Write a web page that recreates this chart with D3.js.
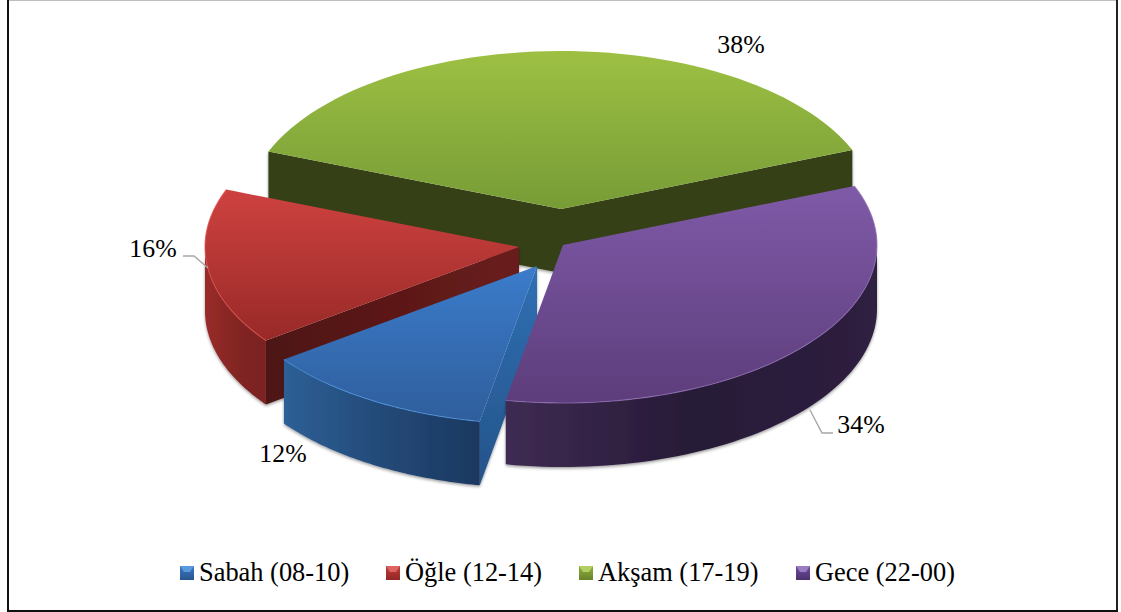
<!DOCTYPE html>
<html><head><meta charset="utf-8">
<script src="https://cdn.jsdelivr.net/npm/d3@7"></script>
<style>html,body{margin:0;padding:0;background:#fff}svg{display:block}text{font-family:"Liberation Serif","Times New Roman",serif;fill:#000}</style>
</head><body><div id="c"></div>
<script>
const categories = ["Sabah (08-10)", "Öğle (12-14)", "Akşam (17-19)", "Gece (22-00)"];
const values = [12, 16, 38, 34];
const valueLabels = ["12%", "16%", "38%", "34%"];

const W = 1121, H = 612;
const rx = 314, ry = 158, depth = 64;
const rad = d3.scaleLinear().domain([0, 360]).range([0, 2 * Math.PI]);
const firstAngle = rad(190.5);

// layout of each slice (exploded apex), label anchors and legend columns
const apex = [[537, 266], [519, 247], [561, 209], [563, 245]];
const labelPos = [[283, 462], [153, 257], [741, 53], [861, 433]];
const leaders = [null, [[183, 256], [194, 256], [208, 268]], null, [[833, 433], [822, 433], [810, 410]]];
const legendX = [180, 386, 579, 796];

const topStops = [["#3b7ccb", "#2f5e9c"], ["#ce4240", "#982927"], ["#9dc043", "#779c36"], ["#7f5aa8", "#5d3d7b"]];
const edgeCol = ["#4b93e0", "#dc4e4b", "#a9cc4c", "#8d6cb4"];
const legendStops = [
  ["#5b98dd", "#3a78c4", "#2a568f"],
  ["#dd6462", "#c43c3a", "#8f2826"],
  ["#b3cf63", "#8fb03d", "#68832a"],
  ["#9a7cc2", "#6e4c9a", "#4c3270"]
];
const radialWall = [
  {dir: "v", stops: ["#2f70b4", "#255389"]},
  {dir: "h", stops: ["#4e1513", "#6a1c1c"]},
  {dir: "h", stops: ["#343f15", "#343f15"]},
  null
];
const outerStops = [
  ["#2d5f96", "#234a78", "#1b3860"],
  ["#9a2c2a", "#832523", "#7a2220"],
  null,
  ["#3f2b53", "#271a37", "#2f2040"]
];
const drawOrder = [2, 1, 0, 3];

const pie = d3.pie().sort(null).startAngle(firstAngle).endAngle(firstAngle + 2 * Math.PI);
const arcs = pie(values);

const svg = d3.select("#c").append("svg").attr("width", W).attr("height", H);
const defs = svg.append("defs");

function gradient(id, dir, stops) {
  const g = defs.append("linearGradient").attr("id", id)
    .attr("x1", 0).attr("y1", 0).attr("x2", dir === "h" ? 1 : 0).attr("y2", dir === "h" ? 0 : 1);
  stops.forEach((c, i) => g.append("stop").attr("offset", i / (stops.length - 1)).attr("stop-color", c));
  return `url(#${id})`;
}
const f = defs.append("filter").attr("id", "sh").attr("x", "-5%").attr("y", "-5%").attr("width", "110%").attr("height", "110%");
f.append("feDropShadow").attr("dx", 0).attr("dy", 1.5).attr("stdDeviation", 1.5)
  .attr("flood-color", "#000").attr("flood-opacity", 0.4);

// frame
svg.append("line").attr("x1", 8).attr("x2", 1117).attr("y1", 0.5).attr("y2", 0.5).attr("stroke", "#bdbdbd").attr("stroke-width", 1);
svg.append("line").attr("x1", 8).attr("x2", 8).attr("y1", 0).attr("y2", 612).attr("stroke", "#111").attr("stroke-width", 2);
svg.append("line").attr("x1", 1117).attr("x2", 1117).attr("y1", 0).attr("y2", 612).attr("stroke", "#222").attr("stroke-width", 2);
svg.append("line").attr("x1", 8).attr("x2", 1118).attr("y1", 611).attr("y2", 611).attr("stroke", "#111").attr("stroke-width", 2);

const line = d3.line();
const px = (i, a) => [apex[i][0] + rx * Math.sin(a), apex[i][1] - ry * Math.cos(a)];
const samples = (a0, a1) => d3.range(0, 61).map(k => a0 + (a1 - a0) * k / 60);
const down = p => [p[0], p[1] + depth];

// clockwise angle ranges of the rim that face the viewer
function frontRange(a0, a1) {
  const lo = rad(90), hi = rad(270);
  let b0 = a0, b1 = a1;
  while (b0 > rad(360)) { b0 -= 2 * Math.PI; b1 -= 2 * Math.PI; }
  const s = Math.max(b0, lo), e = Math.min(b1, hi);
  return e > s ? [s, e] : null;
}

drawOrder.forEach(i => {
  const d = arcs[i];
  const g = svg.append("g").attr("class", "slice");
  const walls = g.append("g").attr("filter", "url(#sh)");
  const ap = apex[i];
  const start = px(i, d.startAngle), end = px(i, d.endAngle);

  // radial walls
  if (i === 2) {
    [start, end].forEach(p => {
      walls.append("path")
        .attr("d", line([ap, p, down(p), down(ap)]) + "Z")
        .attr("fill", "#343f15");
    });
  } else if (radialWall[i]) {
    const rw = radialWall[i];
    walls.append("path")
      .attr("d", line([ap, start, down(start), down(ap)]) + "Z")
      .attr("fill", gradient("rw" + i, rw.dir, rw.stops));
  }

  // outer rim
  const fr = frontRange(d.startAngle, d.endAngle);
  if (fr && outerStops[i]) {
    const pts = samples(fr[0], fr[1]).map(a => px(i, a));
    walls.append("path")
      .attr("d", line(pts.concat(pts.slice().reverse().map(down))) + "Z")
      .attr("fill", gradient("ow" + i, "h", outerStops[i]));
  }

  // top face
  const rim = samples(d.startAngle, d.endAngle).map(a => px(i, a));
  g.append("path")
    .attr("d", line([ap].concat(rim)) + "Z")
    .attr("fill", gradient("top" + i, "v", topStops[i]));
  g.append("path")
    .attr("d", line(rim))
    .attr("fill", "none")
    .attr("stroke", edgeCol[i])
    .attr("stroke-width", 1.1)
    .attr("opacity", i === 2 ? 0 : 0.75);
});

// leader lines
leaders.forEach(l => {
  if (l) svg.append("path").attr("d", line(l)).attr("fill", "none")
    .attr("stroke", "#a6a6a6").attr("stroke-width", 1.4);
});

// data labels
svg.selectAll("text.lab").data(valueLabels).join("text")
  .attr("class", "lab")
  .attr("x", (d, i) => labelPos[i][0]).attr("y", (d, i) => labelPos[i][1])
  .attr("text-anchor", "middle").attr("font-size", 25.8)
  .text(d => d);

// legend
const legY = 566, sw = 14;
const lg = svg.selectAll("g.leg").data(categories).join("g").attr("class", "leg")
  .attr("transform", (d, i) => `translate(${legendX[i]},${legY})`);
lg.append("rect").attr("width", sw).attr("height", sw)
  .attr("fill", (d, i) => gradient("lg" + i, "v", [legendStops[i][1], legendStops[i][2]]));
lg.append("path")
  .attr("d", line([[0, 0], [sw, 0], [sw - 4, 6], [4, 6]]) + "Z")
  .attr("fill", (d, i) => legendStops[i][0]);
lg.append("text").attr("x", sw + 5).attr("y", 15).attr("font-size", 26.4).text(d => d);
</script></body></html>
